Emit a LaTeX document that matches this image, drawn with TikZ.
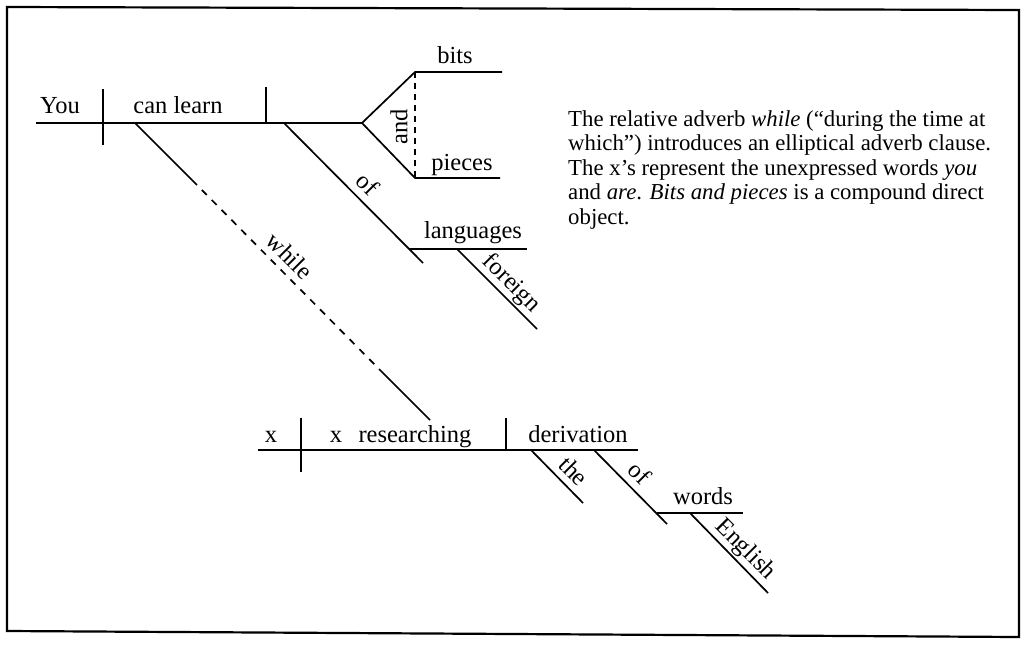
\documentclass[tikz,border=0pt]{standalone}
\usepackage{fontspec}
\setmainfont{Liberation Serif}
\begin{document}
\begin{tikzpicture}[x=1pt,y=-1pt,
  ln/.style={line width=1.7pt},
  dsh/.style={line width=1.7pt, dash pattern=on 7pt off 7pt},
  frm/.style={line width=2.2pt},
  lbl/.style={font=\fontsize{24.5}{29}\selectfont, inner sep=0pt, anchor=base},
  slbl/.style={lbl, rotate=-45},
  note/.style={font=\fontsize{22.8}{24.5}\selectfont, inner sep=0pt, anchor=north west, align=left}]
\useasboundingbox (0,0) rectangle (1027,645);
% frame
\coordinate (f1) at (7,7);
\coordinate (f2) at (1019,10);
\coordinate (f3) at (1019,637);
\coordinate (f4) at (7,631);
\draw[frm] (f1) -- (f2) -- (f3) -- (f4) -- cycle;
% main clause
\coordinate (mL) at (36,123);
\coordinate (apex) at (362,123);
\coordinate (d1t) at (103,89);
\coordinate (d1b) at (103,145);
\coordinate (d2t) at (266,87);
\coordinate (d2b) at (266,123);
\draw[ln] (mL) -- (apex);
\draw[ln] (d1t) -- (d1b);
\draw[ln] (d2t) -- (d2b);
\node[lbl] (you) at (60,113) {You};
\node[lbl] (canlearn) at (178,113) {can learn};
% compound direct object
\coordinate (bitsL) at (415,72);
\coordinate (bitsR) at (502,72);
\coordinate (piecesL) at (415,178);
\coordinate (piecesR) at (500,178);
\draw[ln] (apex) -- (bitsL) -- (bitsR);
\draw[ln] (apex) -- (piecesL) -- (piecesR);
\draw[line width=1.7pt, dash pattern=on 6pt off 5pt] (bitsL) -- (piecesL);
\node[lbl] (bits) at (455,63) {bits};
\node[lbl] (pieces) at (462,170) {pieces};
\node[lbl, anchor=center, rotate=90] (and) at (399,127) {and};
% of foreign languages
\coordinate (ofS) at (284,123);
\coordinate (ofE) at (423,263);
\coordinate (langL) at (409,249);
\coordinate (langR) at (527,249);
\coordinate (forS) at (457,249);
\coordinate (forE) at (537,329);
\draw[ln] (ofS) -- (ofE);
\draw[ln] (langL) -- (langR);
\draw[ln] (forS) -- (forE);
\node[slbl] (of1) at (362,190) {of};
\node[lbl] (languages) at (473,238) {languages};
\node[slbl] (foreign) at (507,288) {foreign};
% while connector
\coordinate (wS) at (135,123);
\coordinate (wA) at (192,180);
\coordinate (wB) at (381,371);
\coordinate (wE) at (430,420);
\draw[ln] (wS) -- (wA);
\draw[dsh] (wA) -- (wB);
\draw[ln] (wB) -- (wE);
\node[slbl] (while) at (284,262) {while};
% subordinate clause
\coordinate (sL) at (258,450);
\coordinate (sR) at (638,450);
\coordinate (s1t) at (301,418);
\coordinate (s1b) at (301,472);
\coordinate (s2t) at (506,418);
\coordinate (s2b) at (506,450);
\draw[ln] (sL) -- (sR);
\draw[ln] (s1t) -- (s1b);
\draw[ln] (s2t) -- (s2b);
\node[lbl] (x1) at (271,442) {x};
\node[lbl] (x2) at (336,442) {x};
\node[lbl] (researching) at (415,442) {researching};
\node[lbl] (derivation) at (578,442) {derivation};
\coordinate (theS) at (531,450);
\coordinate (theE) at (583,503);
\coordinate (of2S) at (594,450);
\coordinate (of2E) at (667,524);
\coordinate (wordsL) at (657,513);
\coordinate (wordsR) at (743,513);
\coordinate (engS) at (690,513);
\coordinate (engE) at (768,593);
\draw[ln] (theS) -- (theE);
\draw[ln] (of2S) -- (of2E);
\draw[ln] (wordsL) -- (wordsR);
\draw[ln] (engS) -- (engE);
\node[slbl] (the) at (568,477) {the};
\node[slbl] (of2) at (634,479) {of};
\node[lbl] (words) at (703,504) {words};
\node[slbl] (english) at (741,554) {English};
% explanatory note
\node[note] (notetext) at (568,110.3) {The relative adverb \textit{while} (“during the time at\\
which”) introduces an elliptical adverb clause.\\
The x’s represent the unexpressed words \textit{you}\\
and \textit{are}. \textit{Bits and pieces} is a compound direct\\
object.};
\end{tikzpicture}
\end{document}
